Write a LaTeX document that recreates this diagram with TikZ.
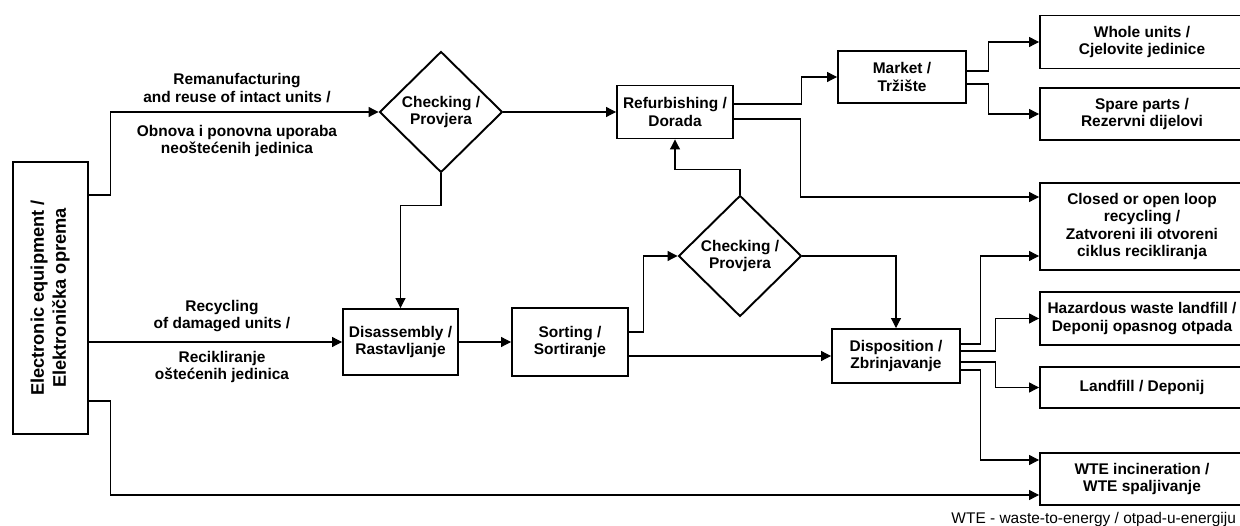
\documentclass[tikz,border=0pt]{standalone}
\usepackage{fontspec}
\setmainfont{Liberation Sans}
\usepackage{graphicx}
\usetikzlibrary{shapes.geometric, arrows.meta}

\begin{document}
\begin{tikzpicture}[x=0.02cm, y=-0.02cm,
    txt/.style={font=\fontsize{8.8}{9.8}\selectfont},
    box/.style={draw, line width=1.1pt, font=\bfseries\fontsize{8.8}{9.8}\selectfont, align=center, inner sep=1pt},
    outbox/.style={box, minimum width=4.08cm},
    check/.style={draw, diamond, line width=1.1pt, inner sep=0pt, minimum width=2.46cm, minimum height=2.42cm, font=\bfseries\fontsize{8.8}{9.8}\selectfont, align=center},
    lbl/.style={font=\bfseries\fontsize{8.8}{9.8}\selectfont, align=center},
    arr/.style={-{Triangle[length=5.6pt,width=5.6pt]}, line width=0.6pt}]
    \useasboundingbox (0,0) rectangle (1240,526);

    % Source
    \node[box, minimum width=1.5cm, minimum height=5.44cm] (src) at (50.5,298)
        {\rotatebox{90}{\fontsize{10.4}{12.5}\selectfont\begin{tabular}{@{}c@{}}Electronic equipment /\\Elektronička oprema\end{tabular}}};

    % Upper route
    \node[check] (chk1) at (441,112) {Checking /\\Provjera};
    \node[box, minimum width=2.32cm, minimum height=1.06cm] (refurb) at (675,112) {Refurbishing /\\Dorada};
    \node[box, minimum width=2.56cm, minimum height=1.04cm] (market) at (902,77) {Market /\\Tržište};

    % Lower route
    \node[box, minimum width=2.3cm, minimum height=1.32cm] (disas) at (400.5,342) {Disassembly /\\Rastavljanje};
    \node[box, minimum width=2.32cm, minimum height=1.36cm] (sort) at (570,342) {Sorting /\\Sortiranje};
    \node[check] (chk2) at (740,256) {Checking /\\Provjera};
    \node[box, minimum width=2.56cm, minimum height=1.08cm] (disp) at (896,356) {Disposition /\\Zbrinjavanje};

    % End points
    \node[outbox, minimum height=1.06cm] (whole) at (1142,42) {Whole units /\\Cjelovite jedinice};
    \node[outbox, minimum height=1.04cm] (spare) at (1142,114) {Spare parts /\\Rezervni dijelovi};
    \node[outbox, minimum height=1.74cm] (closed) at (1142,226.5) {Closed or open loop\\recycling /\\Zatvoreni ili otvoreni\\ciklus recikliranja};
    \node[outbox, minimum height=1.06cm] (hazard) at (1142,318.5) {Hazardous waste landfill /\\Deponij opasnog otpada};
    \node[outbox, minimum height=0.82cm] (landfill) at (1142,387.5) {Landfill / Deponij};
    \node[outbox, minimum height=1.04cm] (wte) at (1142,479) {WTE incineration /\\WTE spaljivanje};

    % Route labels
    \node[lbl] (remanEN) at (237,88) {Remanufacturing\\and reuse of intact units /};
    \node[lbl] (remanHR) at (237,141) {Obnova i ponovna uporaba\\neoštećenih jedinica};
    \node[lbl] (recycEN) at (222,316) {Recycling\\of damaged units /};
    \node[lbl] (recycHR) at (222,367) {Recikliranje\\oštećenih jedinica};

    % Footnote
    \node[txt, anchor=base east, inner sep=1pt] (note) at (1238,523) {WTE - waste-to-energy / otpad-u-energiju};

    % Connectors
    \draw[arr] (src.east |- 0,195) -- ++(22,0) |- (chk1.west);
    \draw[arr] (src.east |- 0,342) -- (disas.west);
    \draw[arr] (src.east |- 0,401) -- ++(22,0) |- (wte.west |- 0,495);
    \draw[arr] (chk1.east) -- (refurb.west);
    \draw[arr] (chk1.south) -- ++(0,32) -| (disas.north);
    \draw[arr] (disas.east) -- (sort.west);
    \draw[arr] (sort.east |- 0,332) -- ++(15,0) |- (chk2.west);
    \draw[arr] (sort.east |- 0,356) -- (disp.west);
    \draw[arr] (chk2.north) -- ++(0,-25) -| (refurb.south);
    \draw[arr] (chk2.east) -| (disp.north);
    \draw[arr] (refurb.east |- 0,104) -- ++(68,0) |- (market.west);
    \draw[arr] (refurb.east |- 0,119) -- ++(67,0) |- (closed.west |- 0,197);
    \draw[arr] (market.east |- 0,71) -- ++(22,0) |- (whole.west);
    \draw[arr] (market.east |- 0,84) -- ++(22,0) |- (spare.west);
    \draw[arr] (disp.east |- 0,344) -- ++(20,0) |- (closed.west |- 0,256);
    \draw[arr] (disp.east |- 0,351) -- ++(35,0) |- (hazard.west);
    \draw[arr] (disp.east |- 0,362) -- ++(35,0) |- (landfill.west);
    \draw[arr] (disp.east |- 0,370) -- ++(20,0) |- (wte.west |- 0,460);
\end{tikzpicture}
\end{document}
